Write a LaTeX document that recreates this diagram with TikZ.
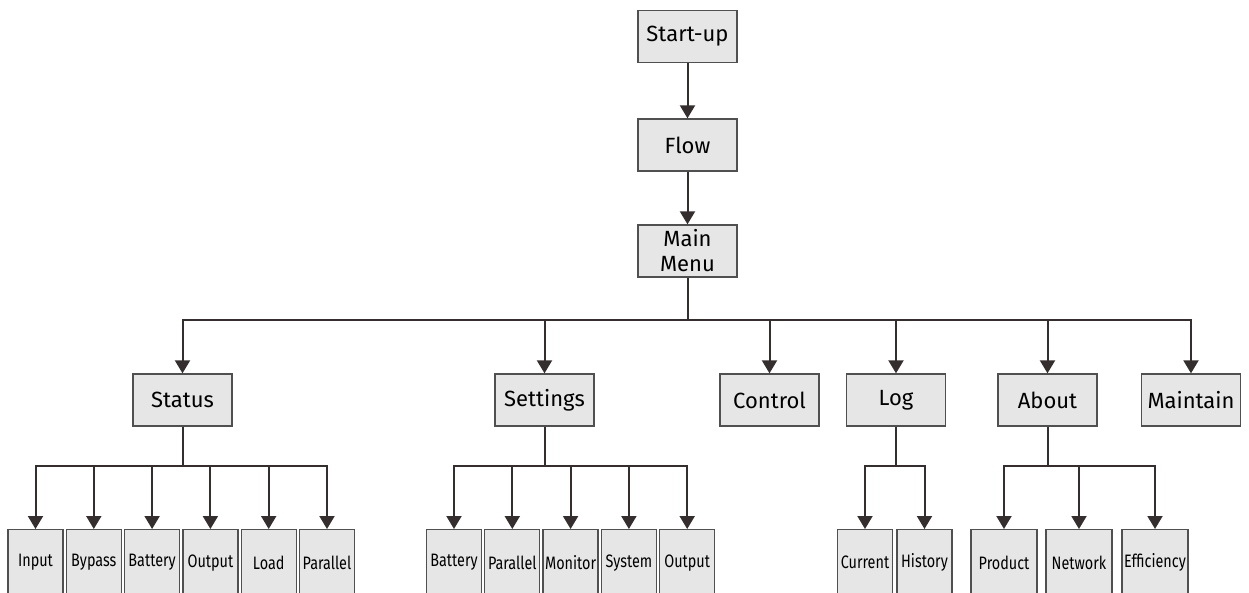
\documentclass[tikz,border=0pt]{standalone}
\usepackage{fontspec}
\setmainfont{Fira Sans}
\usepackage{graphicx}
\usetikzlibrary{arrows.meta}
\definecolor{boxfill}{HTML}{E6E6E6}
\definecolor{boxline}{HTML}{505050}
\definecolor{wirecol}{HTML}{352E2E}
\newcommand{\slim}[1]{\scalebox{0.8}[1]{#1}}
\tikzset{
  menubox/.style={draw=boxline,fill=boxfill,line width=1.3pt,minimum width=99pt,minimum height=52pt,
    inner sep=0pt,align=center,font=\fontsize{22}{25}\selectfont},
  leafbox/.style={draw=boxline,fill=boxfill,line width=1.3pt,minimum width=55pt,minimum height=66pt,
    inner sep=0pt,anchor=north,font=\fontsize{18}{20}\selectfont},
  wire/.style={draw=wirecol,line width=2pt},
  arr/.style={wire,-{Triangle[width=15pt,length=13pt]}}
}

\begin{document}
\begin{tikzpicture}[x=1pt,y=-1pt]
\useasboundingbox (0,0) rectangle (1249,593);
\clip (0,0) rectangle (1249,593);
\node[menubox] (start) at (687.5,36.5) {Start-up};
\node[menubox] (flow) at (687.5,145) {Flow};
\node[menubox] (menu) at (687.5,251) {Main\\Menu};
\draw[arr] (start) -- (flow);
\draw[arr] (flow) -- (menu);
\coordinate (mbus) at (687.5,320);
\draw[wire] (menu) -- (mbus);
\foreach \n/\x/\t in {stat/182.5/Status,sett/544.5/Settings,ctrl/769.5/Control,
                      log/896/Log,about/1047.5/About,maint/1191/Maintain}{
  \node[menubox] (\n) at (\x,400) {\t};
  \draw[arr] (mbus) -| (\n);}
\coordinate (stbus) at (182.5,466);
\draw[wire] (stat) -- (stbus);
\foreach \n/\x/\t in {st-in/35.5/Input,st-by/93.8/Bypass,st-ba/152.1/Battery,
                      st-out/210.4/Output,st-ld/268.7/Load,st-par/327/Parallel}{
  \node[leafbox] (\n) at (\x,529) {\slim{\t}};
  \draw[arr] (stbus) -| (\n);}
\coordinate (sebus) at (544.5,466);
\draw[wire] (sett) -- (sebus);
\foreach \n/\x/\t in {se-ba/454/Battery,se-par/512.3/Parallel,se-mon/570.6/Monitor,
                      se-sys/628.9/System,se-out/687.2/Output}{
  \node[leafbox] (\n) at (\x,529) {\slim{\t}};
  \draw[arr] (sebus) -| (\n);}
\coordinate (lgbus) at (896,466);
\draw[wire] (log) -- (lgbus);
\foreach \n/\x/\t in {lg-cur/865/Current,lg-his/924.5/History}{
  \node[leafbox] (\n) at (\x,529) {\slim{\t}};
  \draw[arr] (lgbus) -| (\n);}
\coordinate (abbus) at (1047.5,466);
\draw[wire] (about) -- (abbus);
\foreach \n/\x/\t in {ab-pro/1004/Product,ab-net/1079/Network,ab-eff/1155/Efficiency}{
  \node[leafbox,minimum width=66pt] (\n) at (\x,529) {\slim{\t}};
  \draw[arr] (abbus) -| (\n);}
\end{tikzpicture}
\end{document}
